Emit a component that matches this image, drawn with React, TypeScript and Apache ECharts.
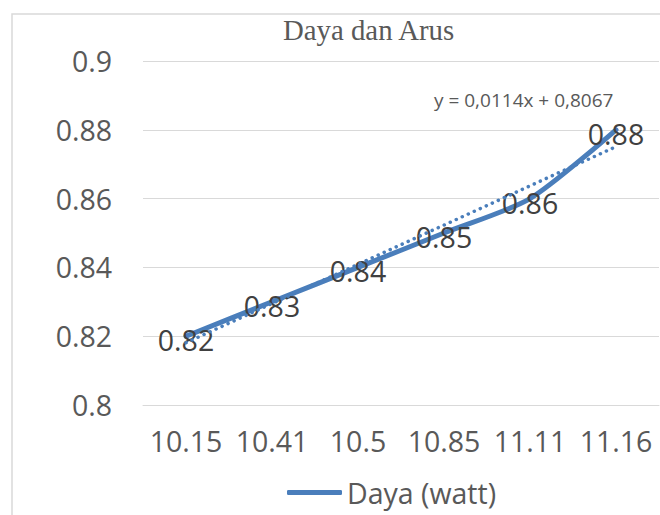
import React, { useEffect, useRef } from "react";
import * as echarts from "echarts";

const categories = ["10.15", "10.41", "10.5", "10.85", "11.11", "11.16"];
const dayaValues = [0.82, 0.83, 0.84, 0.85, 0.86, 0.88];
const trendValues = [0.8181, 0.8295, 0.8409, 0.8523, 0.8637, 0.8751];
const yTicks = [0.8, 0.82, 0.84, 0.86, 0.88, 0.9];
const titleText = "Daya dan Arus";
const seriesName = "Daya (watt)";
const trendLabel = "y = 0,0114x + 0,8067";

const BLUE = "#4a7ebb";
const GRAY = "#595959";
const FONT = "'Open Sans', Lato, sans-serif";
const FS = 28.5;

export default function App() {
  const ref = useRef<HTMLDivElement>(null);
  useEffect(() => {
    if (!ref.current) return;
    const chart = echarts.init(ref.current, null, { renderer: "svg" });
    chart.setOption({
      animation: false,
      backgroundColor: "#ffffff",
      title: {
        text: titleText,
        left: 283,
        top: 15,
        padding: 0,
        textStyle: {
          fontFamily: "'Liberation Serif', 'Times New Roman', serif",
          fontSize: 28.8,
          fontWeight: "normal",
          color: GRAY,
        },
      },
      graphic: [
        {
          type: "rect",
          shape: { x: 12, y: 14, width: 800, height: 700 },
          style: { fill: "none", stroke: "#d9d9d9", lineWidth: 1.5 },
          silent: true,
          z: -1,
        },
        {
          type: "text",
          x: 434,
          y: 100,
          style: {
            text: trendLabel,
            fontFamily: FONT,
            fontSize: 19,
            fill: GRAY,
            verticalAlign: "middle",
          },
        },
      ],
      legend: {
        data: [seriesName],
        left: 287,
        top: 478,
        icon: "roundRect",
        itemWidth: 55,
        itemHeight: 5,
        itemGap: 5,
        padding: 0,
        textStyle: { fontFamily: FONT, fontSize: FS, color: GRAY },
      },
      grid: { left: 143, right: 1, top: 61, bottom: 110, containLabel: false },
      xAxis: {
        type: "category",
        data: categories,
        boundaryGap: true,
        axisLine: { lineStyle: { color: "#d9d9d9", width: 1 } },
        axisTick: { show: false },
        axisLabel: {
          interval: 0,
          hideOverlap: false,
          fontFamily: FONT,
          fontSize: FS,
          color: GRAY,
          margin: 21,
        },
      },
      yAxis: {
        type: "value",
        min: yTicks[0],
        max: yTicks[yTicks.length - 1],
        interval: 0.02,
        axisLine: { show: false },
        axisTick: { show: false },
        splitLine: { lineStyle: { color: "#d9d9d9", width: 1 } },
        axisLabel: {
          fontFamily: FONT,
          fontSize: FS,
          color: GRAY,
          margin: 31,
          formatter: (v: number) => String(parseFloat(v.toFixed(2))),
        },
      },
      series: [
        {
          name: seriesName,
          type: "line",
          data: dayaValues,
          smooth: 0.25,
          symbol: "circle",
          symbolSize: 0.1,
          itemStyle: { color: BLUE },
          lineStyle: { color: BLUE, width: 5, cap: "round", join: "round" },
          label: {
            show: true,
            position: "inside",
            offset: [0, 4],
            fontFamily: FONT,
            fontSize: FS,
            color: "#404040",
          },
          z: 3,
        },
        {
          name: "trend",
          type: "line",
          data: trendValues,
          symbol: "none",
          itemStyle: { color: BLUE },
          lineStyle: {
            color: BLUE,
            width: 3.5,
            type: [0.1, 6.5],
            cap: "round",
          },
          z: 4,
          silent: true,
        },
      ],
    });
    return () => chart.dispose();
  }, []);
  return (
    <div
      ref={ref}
      style={{ position: "fixed", left: 0, top: 0, width: 660, height: 515 }}
    />
  );
}
